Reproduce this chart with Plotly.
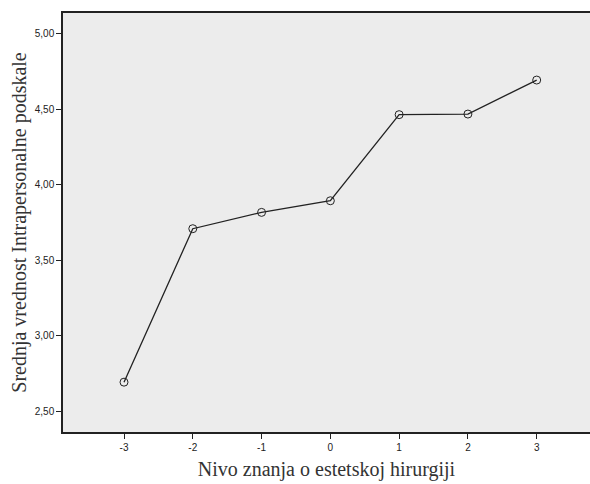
import plotly.graph_objects as go

# Mean of the intrapersonal subscale by knowledge level
knowledge_level = [-3, -2, -1, 0, 1, 2, 3]
mean_intrapersonal = [2.693, 3.709, 3.817, 3.894, 4.464, 4.468, 4.693]

x_tick_vals = [-3, -2, -1, 0, 1, 2, 3]
x_tick_text = ["-3", "-2", "-1", "0", "1", "2", "3"]
y_tick_vals = [2.5, 3.0, 3.5, 4.0, 4.5, 5.0]
y_tick_text = ["2,50", "3,00", "3,50", "4,00", "4,50", "5,00"]

ink = "#222222"
title_font = dict(family="Liberation Serif, DejaVu Serif, serif", size=20, color="#333333")

fig = go.Figure(
    go.Scatter(
        x=knowledge_level,
        y=mean_intrapersonal,
        mode="lines+markers",
        line=dict(color=ink, width=1.3),
        marker=dict(symbol="circle-open", size=8, color=ink, line=dict(width=1)),
        showlegend=False,
        hoverinfo="x+y",
    )
)

fig.update_layout(
    width=590,
    height=484,
    margin=dict(l=63, r=0, t=13, b=52),
    paper_bgcolor="white",
    plot_bgcolor="#ececec",
    font=dict(family="Liberation Sans, Arial, sans-serif", size=10, color=ink),
)

fig.update_xaxes(
    range=[-3.887, 3.775],
    tickvals=x_tick_vals,
    ticktext=x_tick_text,
    ticks="outside",
    ticklen=5,
    tickwidth=1,
    tickcolor=ink,
    showgrid=False,
    zeroline=False,
    showline=True,
    linecolor=ink,
    linewidth=1.5,
    mirror=True,
    tickfont=dict(size=10, color=ink),
    title=dict(text="Nivo znanja o estetskoj hirurgiji", font=title_font, standoff=10),
)

fig.update_yaxes(
    range=[2.363, 5.137],
    tickvals=y_tick_vals,
    ticktext=y_tick_text,
    ticks="outside",
    ticklen=5,
    tickwidth=1,
    tickcolor=ink,
    showgrid=False,
    zeroline=False,
    showline=True,
    linecolor=ink,
    linewidth=1.5,
    tickfont=dict(size=10, color=ink),
    title=dict(text="Srednja vrednost Intrapersonalne podskale", font=title_font, standoff=3),
)

fig.write_html("out.html")
